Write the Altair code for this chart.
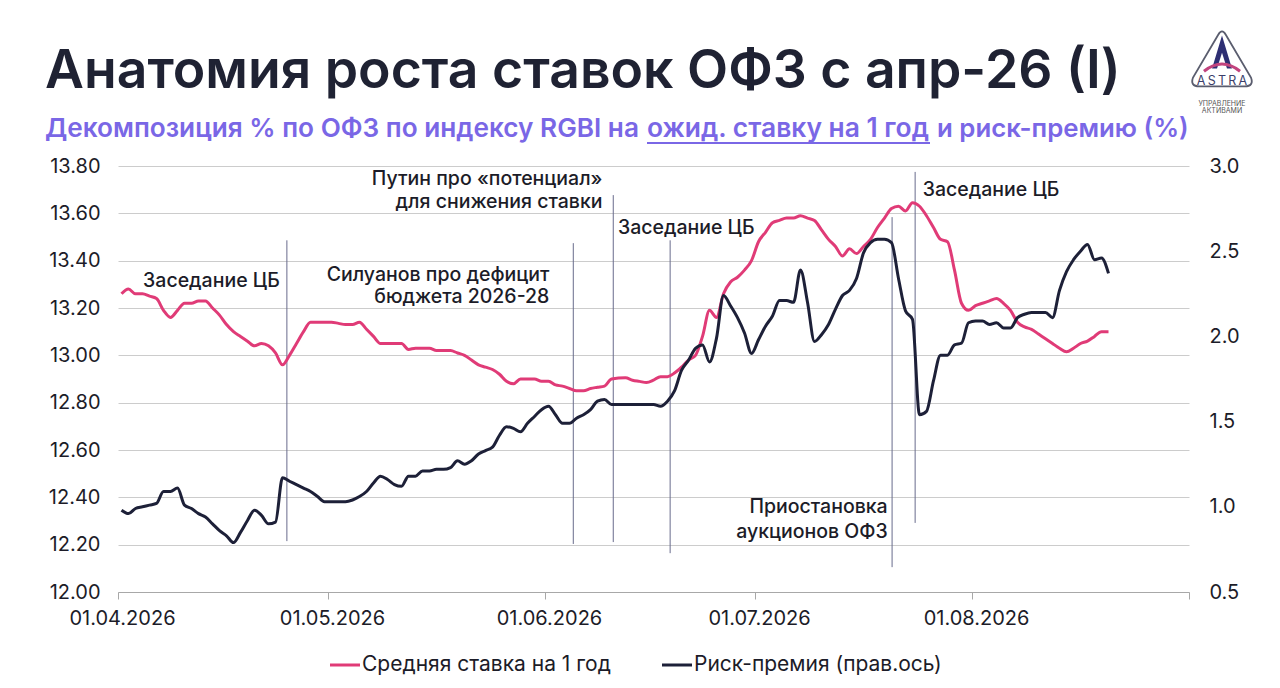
import altair as alt
import pandas as pd

# ---------------- data ----------------
# daily observations: 01.04.2026 .. 10.06.2026 and 12.06.2026 .. 20.08.2026
period_1 = ("2026-04-01", "2026-06-10")
period_2 = ("2026-06-12", "2026-08-20")

rate_1y = [
    13.26, 13.28, 13.26, 13.26, 13.25, 13.24, 13.19, 13.16, 13.19, 13.22,
    13.22, 13.23, 13.23, 13.20, 13.17, 13.13, 13.10, 13.08, 13.06, 13.04,
    13.05, 13.04, 13.01, 12.96, 13.00, 13.05, 13.10, 13.14, 13.14, 13.14,
    13.14, 13.135, 13.13, 13.13, 13.14, 13.11, 13.08, 13.05, 13.05, 13.05,
    13.05, 13.025, 13.03, 13.03, 13.03, 13.02, 13.02, 13.02, 13.01, 13.00,
    12.98, 12.96, 12.95, 12.94, 12.92, 12.89, 12.88, 12.90, 12.90, 12.90,
    12.89, 12.89, 12.875, 12.87, 12.86, 12.85, 12.85, 12.86, 12.865, 12.87,
    12.90, 12.905, 12.895, 12.89, 12.885, 12.895, 12.91, 12.91, 12.925, 12.95,
    12.98, 13.00, 13.08, 13.19, 13.16, 13.26, 13.31, 13.33, 13.36, 13.40,
    13.48, 13.52, 13.56, 13.57, 13.58, 13.58, 13.59, 13.58, 13.57, 13.53,
    13.49, 13.46, 13.42, 13.45, 13.43, 13.46, 13.49, 13.54, 13.58, 13.62,
    13.63, 13.61, 13.645, 13.63, 13.59, 13.54, 13.49, 13.48, 13.36, 13.22,
    13.19, 13.21, 13.22, 13.23, 13.24, 13.22, 13.19, 13.14, 13.12, 13.11,
    13.09, 13.07, 13.05, 13.03, 13.015, 13.03, 13.05, 13.06, 13.08, 13.10,
    13.10,
]

risk_premium = [
    0.98, 0.96, 0.99, 1.00, 1.01, 1.02, 1.09, 1.09, 1.11, 1.01,
    0.99, 0.96, 0.94, 0.90, 0.86, 0.83, 0.79, 0.85, 0.92, 0.98,
    0.95, 0.90, 0.91, 1.17, 1.15, 1.13, 1.11, 1.09, 1.06, 1.03,
    1.03, 1.03, 1.03, 1.04, 1.06, 1.09, 1.14, 1.18, 1.16, 1.13,
    1.12, 1.18, 1.18, 1.21, 1.21, 1.22, 1.22, 1.23, 1.27, 1.25,
    1.27, 1.31, 1.33, 1.35, 1.42, 1.47, 1.46, 1.44, 1.49, 1.53,
    1.57, 1.59, 1.54, 1.49, 1.49, 1.52, 1.54, 1.57, 1.62, 1.63,
    1.60, 1.60, 1.60, 1.60, 1.60, 1.60, 1.59, 1.62, 1.68, 1.80,
    1.86, 1.93, 1.95, 1.85, 1.99, 2.24, 2.18, 2.11, 2.02, 1.90,
    1.98, 2.06, 2.12, 2.21, 2.21, 2.20, 2.39, 2.20, 1.97, 2.01,
    2.07, 2.16, 2.24, 2.27, 2.34, 2.49, 2.55, 2.57, 2.57, 2.55,
    2.34, 2.15, 2.10, 1.54, 1.56, 1.74, 1.89, 1.89, 1.95, 1.96,
    2.08, 2.09, 2.09, 2.07, 2.08, 2.05, 2.05, 2.11, 2.13, 2.14,
    2.14, 2.14, 2.11, 2.27, 2.38, 2.45, 2.50, 2.54, 2.45, 2.46,
    2.37,
]

# event markers (vertical lines), in left-axis units
event_date = ["2026-04-25T03:00", "2026-06-05T01:00", "2026-06-10T18:00",
              "2026-06-18T21:00", "2026-07-20T14:00", "2026-07-23T21:00"]
event_top = [13.486, 13.474, 13.677, 13.486, 13.584, 13.775]
event_bottom = [12.215, 12.203, 12.211, 12.164, 12.105, 12.292]

# annotations
note_left_date = ["2026-04-04T14:00", "2026-06-11T10:00", "2026-07-24T23:00"]
note_left_level = [13.314, 13.536, 13.698]
note_left_text = ["Заседание ЦБ", "Заседание ЦБ", "Заседание ЦБ"]

note_right_date = ["2026-06-01T15:00", "2026-06-01T15:00", "2026-06-09T05:00",
                   "2026-06-09T05:00", "2026-07-19T23:00", "2026-07-19T23:00"]
note_right_level = [13.341, 13.246, 13.745, 13.647, 12.361, 12.255]
note_right_text = ["Силуанов про дефицит", "бюджета 2026-28",
                   "Путин про «потенциал»", "для снижения ставки",
                   "Приостановка", "аукционов ОФЗ"]

left_ticks = [12.0, 12.2, 12.4, 12.6, 12.8, 13.0, 13.2, 13.4, 13.6, 13.8]
right_ticks = [0.5, 1.0, 1.5, 2.0, 2.5, 3.0]

series_names = ["Средняя ставка на 1 год", "Риск-премия (прав.ось)"]

# ---------------- build tables ----------------
dates = pd.date_range(*period_1).append(pd.date_range(*period_2)) + pd.Timedelta(hours=12)
df = pd.DataFrame({"date": dates, "rate": rate_1y, "risk": risk_premium})
events = pd.DataFrame({"date": event_date, "top": event_top, "bottom": event_bottom})
notes_l = pd.DataFrame({"date": note_left_date, "level": note_left_level, "text": note_left_text})
notes_r = pd.DataFrame({"date": note_right_date, "level": note_right_level, "text": note_right_text})
one = pd.DataFrame({"k": [0]})

PINK = "#e03b77"
NAVY = "#1d2038"
FONT = "Inter"
TXT = "#1c1c28"

x_scale = alt.Scale(domain=[alt.DateTime(year=2026, month=4, date=1),
                            alt.DateTime(year=2026, month=9, date=1)])
x_axis = alt.Axis(
    values=[alt.DateTime(year=2026, month=m, date=1) for m in [4, 5, 6, 7, 8, 9]],
    labelExpr="month(datum.value) == 8 ? '' : timeFormat(datum.value, '%d.%m.%Y')",
    title=None, grid=False, domainColor="#a8a8a8", tickColor="#a8a8a8",
    tickSize=7, labelPadding=9, labelOffset=4, labelFlush=False, labelFontSize=20,
    labelFont=FONT, labelColor=TXT,
)
left_scale = alt.Scale(domain=[12.0, 13.8], zero=False, nice=False)
right_scale = alt.Scale(domain=[0.5, 3.0], zero=False, nice=False)

left_axis = alt.Axis(values=left_ticks, format=".2f", title=None, orient="left",
                     domain=False, ticks=False, grid=True, gridColor="#cccccc",
                     gridWidth=1, labelPadding=18, labelFontSize=20,
                     labelFont=FONT, labelColor=TXT)
right_axis = alt.Axis(values=right_ticks, format=".1f", title=None, orient="right",
                      domain=False, ticks=False, grid=False, labelPadding=20,
                      labelFontSize=20, labelFont=FONT, labelColor=TXT)

pink = alt.Chart(df).mark_line(color=PINK, strokeWidth=3, interpolate="monotone").encode(
    x=alt.X("date:T", scale=x_scale, axis=x_axis, title=None),
    y=alt.Y("rate:Q", scale=left_scale, axis=left_axis, title=None),
)
rules = alt.Chart(events).mark_rule(color="#686b8c", strokeWidth=1).encode(
    x=alt.X("date:T", title=None),
    y=alt.Y("top:Q", scale=left_scale, title=None),
    y2="bottom:Q",
)
txt_l = alt.Chart(notes_l).mark_text(align="left", baseline="middle", font=FONT,
                                    fontSize=19.5, fontWeight=500, color=TXT).encode(
    x=alt.X("date:T", title=None),
    y=alt.Y("level:Q", scale=left_scale, title=None),
    text="text:N",
)
txt_r = alt.Chart(notes_r).mark_text(align="right", baseline="middle", font=FONT,
                                    fontSize=19.5, fontWeight=500, color=TXT).encode(
    x=alt.X("date:T", title=None),
    y=alt.Y("level:Q", scale=left_scale, title=None),
    text="text:N",
)
left_layer = alt.layer(rules, pink, txt_l, txt_r)

dark = alt.Chart(df).mark_line(color=NAVY, strokeWidth=3, interpolate="monotone").encode(
    x=alt.X("date:T", title=None),
    y=alt.Y("risk:Q", scale=right_scale, axis=right_axis, title=None),
)

# ---------------- decorations (title, subtitle, logo, legend) ----------------
def label(text, x, y, size, color=TXT, weight=400, align="left", baseline="alphabetic"):
    return alt.Chart(one).mark_text(text=text, align=align, baseline=baseline, font=FONT,
                                    fontSize=size, fontWeight=weight, color=color).encode(
        x=alt.value(x), y=alt.value(y))

PURPLE = "#7a67e6"
title = label("Анатомия роста ставок ОФЗ с апр-26 (I)", -73, -78, 53.5, "#1f2233", 600)
sub1 = label("Декомпозиция % по ОФЗ по индексу RGBI на", -73, -29, 26.2, PURPLE, 600)
sub2 = label("ожид. ставку на 1 год", 529, -29, 26.4, PURPLE, 600)
sub3 = label("и риск-премию (%)", 819, -29, 25.8, PURPLE, 600)
underline = alt.Chart(one).mark_rule(color=PURPLE, strokeWidth=2).encode(
    x=alt.value(529), x2=alt.value(812), y=alt.value(-23))

tri_path = ("M-0.12,-0.74Q0,-0.95 0.12,-0.74L0.92,0.62Q1.02,0.9 0.72,0.9"
            "L-0.72,0.9Q-1.02,0.9 -0.92,0.62Z")
logo_tri = alt.Chart(one).mark_point(shape=tri_path, size=3969, filled=False,
                                     stroke="#5a5d6e", strokeWidth=1.8,
                                     opacity=1).encode(
    x=alt.value(1104), y=alt.value(-108))
logo_a = alt.Chart(one).mark_point(
    shape="M0,-1L0.6,1L0.3,1L0,0.05L-0.3,1L-0.6,1Z", size=1100, filled=True,
    fill="#2e2f73", strokeWidth=0, opacity=1).encode(x=alt.value(1104), y=alt.value(-114))
logo_arc = alt.Chart(one).mark_point(
    shape="M-1,0.4Q0,-0.4 1,0.4", size=1300, filled=False, stroke="#c2447e",
    strokeWidth=3, opacity=1).encode(x=alt.value(1104), y=alt.value(-102))
logo_name = label("A\u2009S\u2009T\u2009R\u2009A", 1104, -81, 12.5, "#3c3f6a", 400, "center")
logo_s1 = label("УПРАВЛЕНИЕ", 1104, -60, 7, "#555555", 400, "center")
logo_s2 = label("АКТИВАМИ", 1104, -53, 7, "#555555", 400, "center")

leg_pink = alt.Chart(one).mark_rule(color=PINK, strokeWidth=3).encode(
    x=alt.value(212), x2=alt.value(242), y=alt.value(499))
leg_pink_t = label(series_names[0], 244, 499, 21, TXT, 400, "left", "middle")
leg_navy = alt.Chart(one).mark_rule(color=NAVY, strokeWidth=3).encode(
    x=alt.value(544), x2=alt.value(574), y=alt.value(499))
leg_navy_t = label(series_names[1], 576, 499, 21, TXT, 400, "left", "middle")

chart = alt.layer(
    left_layer, dark,
    title, sub1, sub2, sub3, underline,
    logo_tri, logo_a, logo_arc, logo_name, logo_s1, logo_s2,
    leg_pink, leg_pink_t, leg_navy, leg_navy_t,
).resolve_scale(y="independent").properties(
    width=1071, height=426,
    padding={"left": 110, "top": 158, "right": 80, "bottom": 90},
    autosize=alt.AutoSizeParams(type="none"),
    background="white",
).configure_view(stroke=None)

chart.save("out.html", embed_options={"renderer": "svg", "actions": False})
